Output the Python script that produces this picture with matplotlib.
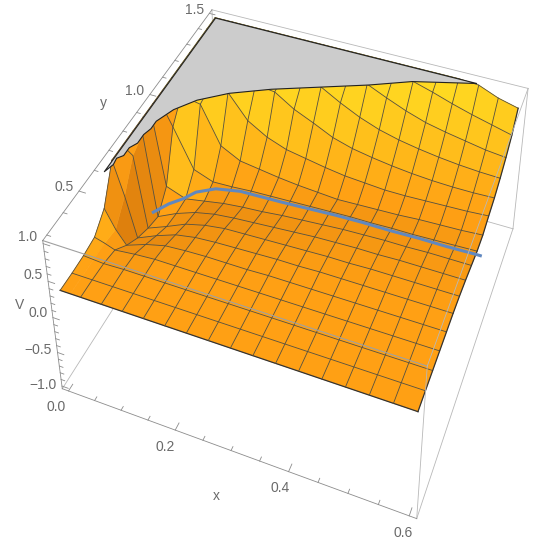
#plot.py - potential surface V(x,y) with clipped top and valley path, Mathematica style
import numpy as np
import matplotlib
matplotlib.use("Agg")
import matplotlib.pyplot as plt
from mpl_toolkits.mplot3d.art3d import Poly3DCollection

plt.rcParams['font.family'] = ['Liberation Sans', 'DejaVu Sans']

#surface values, rows are y, columns are x
x_nodes = [0, .01875, .0375, .075, .1125, .15, .1875, .225, .2625, .3, .3375, .375, .4125, .45, .4875, .525, .5625, .6]
y_nodes = [.3, .375, .45, .525, .6, .675, .75, .825, .9, .975, 1.05, 1.125, 1.2, 1.275, 1.35, 1.425, 1.5]
V_rows = [
    [.33, .33, .33, .33, .33, .33, .33, .33, .33, .33, .33, .33, .33, .33, .33, .33, .33, .33],
    [.33, .33, .33, .33, .33, .33, .33, .33, .33, .33, .33, .33, .33, .33, .33, .33, .33, .33],
    [.34, .33, .32, .33, .33, .33, .33, .33, .33, .33, .33, .33, .33, .33, .33, .33, .33, .33],
    [.37, .33, .28, .31, .33, .33, .33, .33, .33, .33, .33, .33, .33, .33, .33, .33, .33, .33],
    [.55, .30, .12, .22, .29, .31, .32, .32, .32, .33, .33, .33, .33, .33, .33, .33, .33, .33],
    [1, .55, .00, .12, .22, .27, .29, .30, .31, .32, .32, .33, .33, .33, .33, .33, .33, .33],
    [1, .90, -.08, .03, .15, .22, .26, .27, .28, .29, .30, .31, .31, .32, .32, .32, .32, .32],
    [1, 1, -.13, .00, .10, .16, .19, .21, .23, .25, .27, .28, .29, .29, .30, .30, .30, .30],
    [1, 1, .10, .00, .05, .10, .13, .15, .18, .20, .22, .24, .25, .26, .26, .27, .27, .27],
    [1, 1, .75, .22, .12, .13, .15, .16, .17, .18, .19, .20, .20, .21, .21, .22, .23, .24],
    [1, 1, 1, .95, .44, .30, .26, .22, .19, .17, .15, .16, .17, .18, .20, .21, .22, .24],
    [1, 1, 1, 1, 1, .68, .52, .42, .37, .32, .28, .26, .24, .24, .25, .26, .27, .29],
    [1, 1, 1, 1, 1, 1, .97, .80, .68, .55, .47, .42, .38, .35, .33, .32, .32, .33],
    [1, 1, 1, 1, 1, 1, 1, 1, 1, .85, .72, .62, .55, .50, .46, .43, .41, .40],
    [1, 1, 1, 1, 1, 1, 1, 1, 1, 1, 1, .88, .77, .68, .62, .57, .52, .49],
    [1, 1, 1, 1, 1, 1, 1, 1, 1, 1, 1, 1, 1, .92, .83, .75, .68, .61],
    [1, 1, 1, 1, 1, 1, 1, 1, 1, 1, 1, 1, 1, 1, 1, .98, .87, .80],
]

#edge of the clipped top (V = 1)
contour_x = [0, .006, .004, .012, .012, .02, .02, .025, .025, .04, .068, .114, .18, .26, .34, .41, .52]
contour_y = [.62, .66, .69, .71, .75, .78, .825, .86, .9, .975, 1.05, 1.125, 1.2, 1.275, 1.35, 1.425, 1.5]

#valley path
path_x = [.03, .05, .07, .09, .125, .17, .21, .25, .3, .35, .4, .45, .5, .55, .6, .61]
path_y = [.81, .865, .9, .925, .945, .96, .96, .96, .96, .96, .96, .96, .96, .96, .96, .96]
path_V = [-.05, -.03, -.01, .06, .13, .15, .16, .17, .19, .21, .22, .22, .23, .23, .24, .24]

x_ticks = [0, .05, .1, .15, .2, .25, .3, .35, .4, .45, .5, .55, .6]
x_major = [0, .2, .4, .6]
y_ticks = [.3, .4, .5, .6, .7, .8, .9, 1.0, 1.1, 1.2, 1.3, 1.4, 1.5]
y_major = [.5, 1.0, 1.5]
z_ticks = [-1, -.9, -.8, -.7, -.6, -.5, -.4, -.3, -.2, -.1, 0, .1, .2, .3, .4, .5, .6, .7, .8, .9, 1]
z_major = [-1, -.5, 0, .5, 1]

x_nodes = np.array(x_nodes)
y_nodes = np.array(y_nodes)
V = np.array(V_rows)

#plot box with 2% padding, and where its corners sit in the picture
xb = (-.012, .612)
yb = (.276, 1.524)
zb = (-1.04, 1.04)
SIZE = 545.0
pins = [
    (xb[0], yb[0], zb[1], 43, 240), (xb[1], yb[0], zb[1], 427, 367),
    (xb[1], yb[1], zb[1], 528, 88), (xb[0], yb[1], zb[1], 212, 10),
    (xb[0], yb[0], zb[0], 62, 389), (xb[1], yb[0], zb[0], 417, 518),
    (xb[1], yb[1], zb[0], 513, 229),
]

fig = plt.figure(figsize=(5.45, 5.45), dpi=100)
ax = fig.add_axes([0, 0, 1, 1], projection="3d", computed_zorder=False)
ax.set_axis_off()

#fit the camera to the pinned corners
A = []
for px, py, pz, u, v in pins:
    u, v = u / SIZE, 1 - v / SIZE
    A.append([px, py, pz, 1, 0, 0, 0, 0, -u * px, -u * py, -u * pz, -u])
    A.append([0, 0, 0, 0, px, py, pz, 1, -v * px, -v * py, -v * pz, -v])
P = np.linalg.svd(np.array(A))[2][-1].reshape(3, 4)
w_pins = [P[2] @ np.array([p[0], p[1], p[2], 1]) for p in pins]
if np.mean(w_pins) < 0:
    P = -P
    w_pins = [-w for w in w_pins]
corner0 = ax.transData.inverted().transform((0, 0))
corner1 = ax.transData.inverted().transform((SIZE, SIZE))
#depth has to stay negative or mplot3d masks the lines
M = np.array([
    corner0[0] * P[2] + (corner1[0] - corner0[0]) * P[0],
    corner0[1] * P[2] + (corner1[1] - corner0[1]) * P[1],
    P[2] - np.array([0, 0, 0, 2 * max(w_pins)]),
    P[2],
])
ax.get_proj = lambda: M

#facet colours, height ramp plus a simple light, softened so the cells do not look like a checkerboard
X, Y = np.meshgrid(x_nodes, y_nodes)
Vf = (V[:-1, :-1] + V[1:, :-1] + V[:-1, 1:] + V[1:, 1:]) / 4
dx = np.diff(x_nodes)[None, :]
dy = np.diff(y_nodes)[:, None]
Vx = ((V[:-1, 1:] - V[:-1, :-1]) + (V[1:, 1:] - V[1:, :-1])) / 2 / dx * .3
Vy = ((V[1:, :-1] - V[:-1, :-1]) + (V[1:, 1:] - V[:-1, 1:])) / 2 / dy * .6
norm = np.sqrt(Vx ** 2 + Vy ** 2 + 1)
light = (.5, -.6, .6)
bright = (-Vx * light[0] - Vy * light[1] + light[2]) / norm - light[2]
t = np.clip(.2 + .9 * (Vf - .33) + .55 * bright, -.3, 1)
pad = np.pad(t, 1, mode="edge")
t = (2 * pad[1:-1, 1:-1] + pad[:-2, 1:-1] + pad[2:, 1:-1] + pad[1:-1, :-2] + pad[1:-1, 2:]) / 6
#wall at small x: dark at the far left, bright at its foot
t[4:10, :2] -= .6
t[5:9, 2:4] += .2
ramp_t = [-.8, .2, 1]
facecolors = np.ones(Vf.shape + (4,))
facecolors[..., 0] = np.interp(t, ramp_t, [205 / 255, 1, 1])
facecolors[..., 1] = np.interp(t, ramp_t, [112 / 255, 160 / 255, 225 / 255])
facecolors[..., 2] = np.interp(t, ramp_t, [10 / 255, 20 / 255, 35 / 255])

#box edges behind the surface
def edge(p, q, color="#b8b8b8", lw=.6, z=1):
    ax.plot([p[0], q[0]], [p[1], q[1]], [p[2], q[2]], color=color, lw=lw, zorder=z)

a = (xb[0], yb[0], zb[1]); b = (xb[1], yb[0], zb[1]); c = (xb[1], yb[1], zb[1]); d = (xb[0], yb[1], zb[1])
e = (xb[0], yb[0], zb[0]); f = (xb[1], yb[0], zb[0]); g = (xb[1], yb[1], zb[0]); h = (xb[0], yb[1], zb[0])
edge(e, h); edge(h, g); edge(d, h); edge(c, g); edge(f, g); edge(d, c)

ax.plot_surface(X, Y, V, facecolors=facecolors, rstride=1, cstride=1, linewidth=.4, shade=False, zorder=2)

#mesh lines, one row per y node, columns only on the regular spacing
mesh_color = "#55503f"
for j in range(len(y_nodes)):
    edge_row = j == 0
    ax.plot(x_nodes, y_nodes[j] * np.ones(len(x_nodes)), V[j], color="#333333" if edge_row else mesh_color, lw=.9 if edge_row else .6, zorder=3)
for i in range(len(x_nodes)):
    if i == 1:
        continue
    edge_col = i == len(x_nodes) - 1
    ax.plot(x_nodes[i] * np.ones(len(y_nodes)), y_nodes, V[:, i], color="#333333" if edge_col else mesh_color, lw=.9 if edge_col else .6, zorder=3)

#clipped top
top = [(xv, yv, 1) for xv, yv in zip(contour_x, contour_y)]
top += [(0, 1.5, 1)]
ax.add_collection3d(Poly3DCollection([top], facecolors="#cccccc", edgecolors="#222222", linewidths=.8, zorder=4))

ax.plot(path_x, path_y, path_V, color="#6088c0", lw=2.2, zorder=5, solid_capstyle="butt")

#box edges in front of the surface, and the three axes
edge(a, b, color="#a0a0a0", lw=.8, z=6); edge(b, c, z=6); edge(b, f, z=6)
edge(a, d, color="#8c8c8c", z=6); edge(a, e, color="#8c8c8c", z=6); edge(e, f, color="#8c8c8c", z=6)
for tv in x_ticks:
    ln = .028 if tv in x_major else .015
    edge((tv, yb[0], zb[0]), (tv, yb[0] + ln, zb[0]), color="#8c8c8c", z=6)
for tv in y_ticks:
    ln = .012 if tv in y_major else .007
    edge((xb[0], tv, zb[1]), (xb[0] + ln, tv, zb[1]), color="#8c8c8c", z=6)
for tv in z_ticks:
    ln = .012 if tv in z_major else .007
    edge((xb[0], yb[0], tv), (xb[0] + ln, yb[0], tv), color="#8c8c8c", z=6)

#labels
labels = [
    ("0.0", 56, 407), ("0.2", 165, 447), ("0.4", 280, 488), ("0.6", 403, 533), ("x", 216, 496),
    ("0.5", 64, 187), ("1.0", 135, 91), ("1.5", 195, 10), ("y", 103, 103),
    ("\u22121.0", 43, 385), ("\u22120.5", 38, 350), ("0.0", 38, 313), ("0.5", 33, 275), ("1.0", 28, 237), ("V", 20, 305),
]
for txt, lx, ly in labels:
    fig.text(lx / SIZE, 1 - ly / SIZE, txt, ha="center", va="center", fontsize=10, color="#6a6a6a")

fig.savefig("out.png", dpi=100)
